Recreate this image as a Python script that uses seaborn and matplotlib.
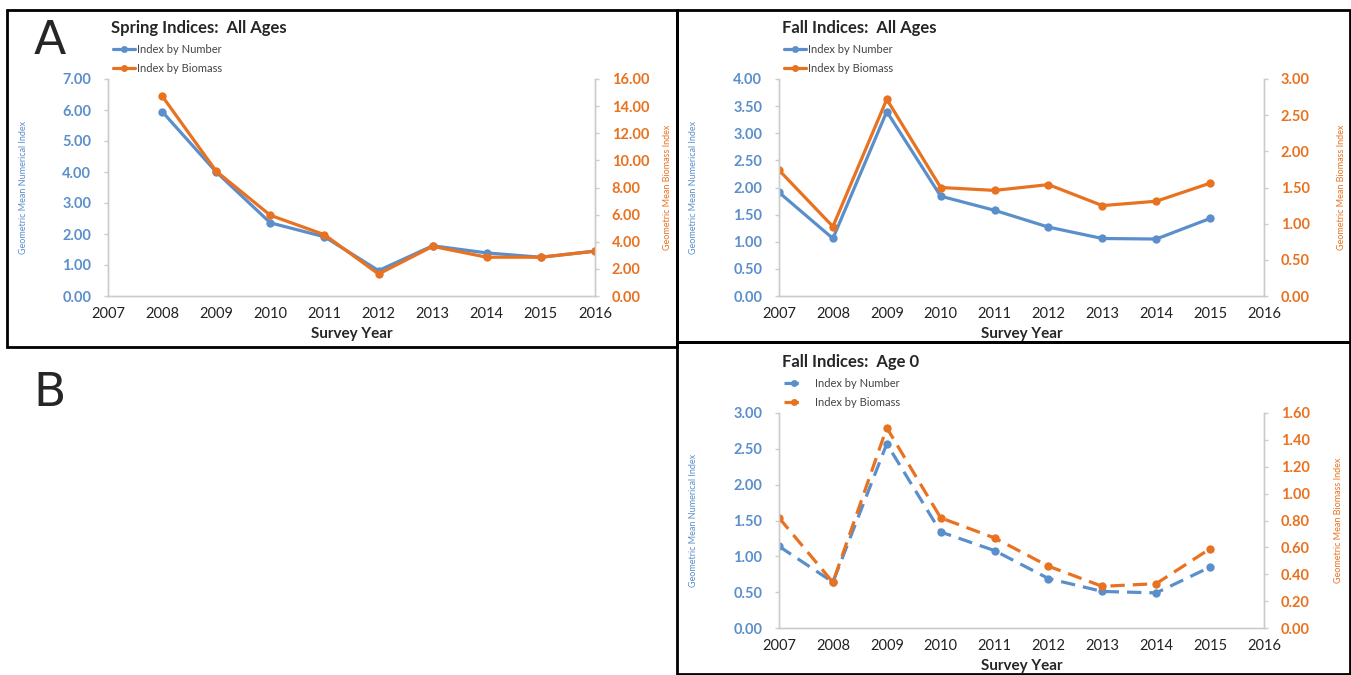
import numpy as np
import pandas as pd
import matplotlib
matplotlib.use("Agg")
import matplotlib.pyplot as plt
import seaborn as sns
from matplotlib.lines import Line2D
from matplotlib.patches import Rectangle

# ---- data ----
spring_years = [2008, 2009, 2010, 2011, 2012, 2013, 2014, 2015, 2016]
spring_number = [5.95, 4.00, 2.36, 1.91, 0.82, 1.62, 1.39, 1.25, 1.45]
spring_biomass = [14.75, 9.20, 5.95, 4.52, 1.62, 3.66, 2.86, 2.86, 3.30]

fall_years = [2007, 2008, 2009, 2010, 2011, 2012, 2013, 2014, 2015]
fall_number = [1.91, 1.06, 3.40, 1.84, 1.58, 1.27, 1.06, 1.05, 1.43]
fall_biomass = [1.74, 0.96, 2.72, 1.50, 1.46, 1.54, 1.25, 1.31, 1.56]

age0_number = [1.14, 0.64, 2.57, 1.34, 1.08, 0.69, 0.51, 0.49, 0.85]
age0_biomass = [0.82, 0.34, 1.49, 0.82, 0.67, 0.46, 0.31, 0.33, 0.59]

year_ticks = list(range(2007, 2017))

BLUE = "#5B8FCB"
ORANGE = "#E8721F"
W, H = 1351, 675

sns.set_theme(style="white")
plt.rcParams['font.family'] = ['Lato', 'DejaVu Sans']

fig = plt.figure(figsize=(W / 100, H / 100), dpi=100)


def px_axes(left, right, top, bottom):
    return fig.add_axes([left / W, 1 - bottom / H, (right - left) / W, (bottom - top) / H])


def panel(box, axbox, title, years, num, bio, ylim1, step1, ylim2, step2,
          lab_left, lab_right, dashed=False):
    # black frame around the panel
    x0, y0, x1, y1 = box
    fig.patches.append(Rectangle((x0 / W, 1 - y1 / H), (x1 - x0) / W, (y1 - y0) / H,
                                 transform=fig.transFigure, fill=False,
                                 edgecolor="black", linewidth=2, zorder=0))
    left, right, top, bottom = axbox
    ax = px_axes(*axbox)
    ax2 = ax.twinx()
    ls = (0, (4.5, 2.5)) if dashed else "-"
    sns.lineplot(x=years, y=num, ax=ax, color=BLUE, marker="o", markersize=6,
                 linewidth=2.3, linestyle=ls, markeredgewidth=0)
    sns.lineplot(x=years, y=bio, ax=ax2, color=ORANGE, marker="o", markersize=6,
                 linewidth=2.3, linestyle=ls, markeredgewidth=0)

    ax.set_xlim(2007, 2016)
    ax.set_xticks(year_ticks)
    ax.set_xticklabels([str(y) for y in year_ticks], fontsize=10.5, color="#222222")
    t1 = np.arange(0, ylim1 + 1e-9, step1)
    ax.set_ylim(0, ylim1)
    ax.set_yticks(t1)
    ax.set_yticklabels([f"{v:.2f}" for v in t1], fontsize=10.5, color=BLUE,
                       fontweight="bold")
    t2 = np.arange(0, ylim2 + 1e-9, step2)
    ax2.set_ylim(0, ylim2)
    ax2.set_yticks(t2)
    ax2.set_yticklabels([f"{v:.2f}" for v in t2], fontsize=10.5, color=ORANGE,
                        fontweight="bold")

    for a in (ax, ax2):
        a.patch.set_alpha(0)
        a.spines["top"].set_visible(False)
        for s in ("left", "right", "bottom"):
            a.spines[s].set_color("#cccccc")
            a.spines[s].set_linewidth(1)
        a.tick_params(axis="y", length=3, width=1, color="#cccccc", pad=9)
    ax.tick_params(axis="x", length=0, pad=8)
    ax.set_xlabel("Survey Year", fontsize=11, fontweight="bold", labelpad=4)
    ax.set_ylabel("Geometric Mean Numerical Index", fontsize=6.5, color=BLUE)
    ax2.set_ylabel("Geometric Mean Biomass Index", fontsize=6.5, color=ORANGE)
    ax.yaxis.set_label_coords((lab_left - left) / (right - left), 0.5)
    ax2.yaxis.set_label_coords((lab_right - left) / (right - left), 0.5)

    fig.text((left + 3) / W, 1 - (top - 51) / H, title, fontsize=12,
             fontweight="bold", va="center", ha="left")
    handles = [Line2D([], [], color=BLUE, marker="o", markersize=5, linewidth=2.3,
                      linestyle=ls, markeredgewidth=0),
               Line2D([], [], color=ORANGE, marker="o", markersize=5, linewidth=2.3,
                      linestyle=ls, markeredgewidth=0)]
    fig.legend(handles, ["Index by Number", "Index by Biomass"], loc="upper left",
               bbox_to_anchor=((left + 5) / W, 1 - (top - 35) / H), frameon=False,
               fontsize=8, handlelength=2.0 if not dashed else 1.8,
               handletextpad=0.2 if not dashed else 1.0, labelspacing=0.72,
               labelcolor="#444444", borderaxespad=0, borderpad=0)
    return ax, ax2


panel((7, 10, 677, 347), (108, 595, 79, 296), "Spring Indices:  All Ages",
      spring_years, spring_number, spring_biomass, 7, 1, 16, 2, 28, 663)
panel((677, 10, 1350, 342), (779, 1264, 79, 296), "Fall Indices:  All Ages",
      fall_years, fall_number, fall_biomass, 4, 0.5, 3, 0.5, 698, 1337)
panel((677, 342, 1350, 674), (779, 1264, 413, 628), "Fall Indices:  Age 0",
      fall_years, age0_number, age0_biomass, 3, 0.5, 1.6, 0.2, 698, 1334,
      dashed=True)

fig.text(50 / W, 1 - 42 / H, "A", fontsize=34, ha="center", va="center",
         family="DejaVu Sans")
fig.text(50 / W, 1 - 394 / H, "B", fontsize=34, ha="center", va="center",
         family="DejaVu Sans")

fig.savefig("out.png", dpi=100, facecolor="white")
